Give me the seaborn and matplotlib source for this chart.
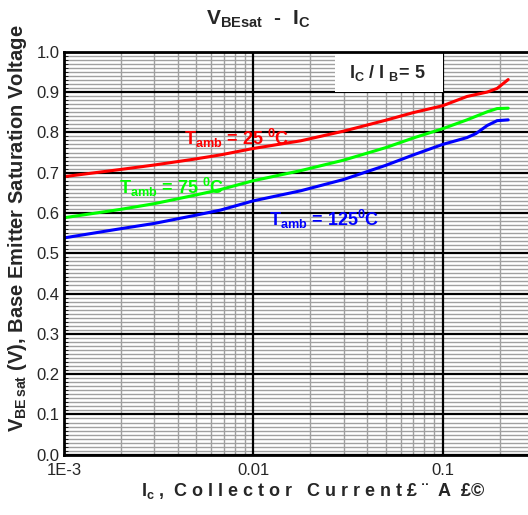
import numpy as np
import pandas as pd
import matplotlib.pyplot as plt
import seaborn as sns
from matplotlib.patches import Rectangle
from matplotlib.ticker import FixedLocator, MultipleLocator, LogLocator, NullFormatter

# collector current (A) and Vbe(sat) readings for each ambient temperature
ic_25 = [0.001, 0.002, 0.003, 0.0048, 0.0067, 0.01, 0.0178, 0.03, 0.05, 0.07, 0.1, 0.1345, 0.172, 0.194, 0.222]
vbe_25 = [0.690, 0.708, 0.719, 0.733, 0.744, 0.760, 0.779, 0.803, 0.830, 0.849, 0.866, 0.889, 0.900, 0.909, 0.931]

ic_75 = [0.001, 0.002, 0.003, 0.0048, 0.0067, 0.01, 0.0178, 0.03, 0.05, 0.07, 0.1, 0.1345, 0.172, 0.194, 0.222]
vbe_75 = [0.588, 0.609, 0.623, 0.643, 0.658, 0.680, 0.705, 0.731, 0.762, 0.786, 0.809, 0.831, 0.851, 0.859, 0.860]

ic_125 = [0.001, 0.002, 0.003, 0.0048, 0.0067, 0.01, 0.0178, 0.03, 0.05, 0.07, 0.1, 0.1345, 0.15, 0.172, 0.194, 0.222]
vbe_125 = [0.538, 0.561, 0.574, 0.593, 0.607, 0.630, 0.655, 0.683, 0.718, 0.744, 0.770, 0.787, 0.797, 0.817, 0.829, 0.831]

temps = ['25', '75', '125']
colors = ['#ff0000', '#00ff00', '#0000ff']
x_ticks = [0.001, 0.01, 0.1]
x_ticklabels = ['1E-3', '0.01', '0.1']
y_ticks = [0.0, 0.1, 0.2, 0.3, 0.4, 0.5, 0.6, 0.7, 0.8, 0.9, 1.0]

df = pd.concat([
    pd.DataFrame({'ic': ic_25, 'vbe': vbe_25, 'T': '25'}),
    pd.DataFrame({'ic': ic_75, 'vbe': vbe_75, 'T': '75'}),
    pd.DataFrame({'ic': ic_125, 'vbe': vbe_125, 'T': '125'}),
])

sns.set_style('white')
plt.rcParams['font.family'] = ['Liberation Sans', 'DejaVu Sans']
plt.rcParams['mathtext.fontset'] = 'custom'
plt.rcParams['mathtext.rm'] = 'Liberation Sans:bold'
plt.rcParams['mathtext.it'] = 'Liberation Sans:bold'
plt.rcParams['mathtext.bf'] = 'Liberation Sans:bold'

fig = plt.figure(figsize=(5.28, 5.15), dpi=100)
ax = fig.add_axes([0.121, 0.117, 0.879, 0.7825])

sns.lineplot(data=df, x='ic', y='vbe', hue='T', hue_order=temps,
             palette=colors, linewidth=2.2, legend=False, ax=ax, sort=False, zorder=3)

ax.set_xscale('log')
ax.set_xlim(0.001, 0.2825)
ax.set_ylim(0.0, 1.0)

# grid: grey minor lines under black major lines
ax.xaxis.set_major_locator(FixedLocator(x_ticks))
ax.set_xticklabels(x_ticklabels)
ax.xaxis.set_minor_locator(LogLocator(base=10, subs=np.arange(2, 10)))
ax.xaxis.set_minor_formatter(NullFormatter())
ax.set_yticks(y_ticks)
ax.set_yticklabels([f'{v:.1f}' for v in y_ticks])
ax.yaxis.set_minor_locator(MultipleLocator(0.01))
ax.grid(which='minor', color='#a0a0a0', linewidth=1.0)
ax.grid(which='major', visible=False)
ax.set_axisbelow(True)
for xv in x_ticks:
    ax.axvline(xv, color='black', linewidth=1.6, zorder=1.5)
for yv in y_ticks:
    ax.axhline(yv, color='black', linewidth=1.6, zorder=1.5)

ax.tick_params(axis='both', which='major', labelsize=12, length=0)
ax.tick_params(axis='x', which='major', pad=6)
ax.tick_params(axis='y', which='major', pad=3)
ax.tick_params(axis='y', which='minor', direction='in', length=3, left=True, color='black')

for side in ['left', 'bottom', 'top']:
    ax.spines[side].set_color('black')
    ax.spines[side].set_linewidth(2)
    ax.spines[side].set_zorder(4)
ax.spines['right'].set_visible(False)

ax.set_xlabel('')
ax.set_ylabel('')

# ratio box
ax.add_patch(Rectangle((0.027, 0.9), 0.1 - 0.027, 0.1, facecolor='white', edgecolor='none', zorder=2))
ax.text(0.0508, 0.948, r'I$_{\mathrm{C}}$ / I $_{\mathrm{B}}$= 5', fontsize=13, fontweight='bold',
        ha='center', va='center', zorder=5)

fig.text(0.489, 0.962, r'V$_{\mathrm{BEsat}}$  -  I$_{\mathrm{C}}$', ha='center', va='center',
         fontsize=15, fontweight='bold')
fig.text(0.034, 0.557, r'V$_{\mathrm{BE\,sat}}$ (V), Base Emitter Saturation Voltage', rotation=90,
         ha='center', va='center', fontsize=14.5, fontweight='bold')
xlab = 'I$_{\\mathrm{c}}$ ,  ' + ' '.join('Collector') + '   ' + ' '.join('Current£¨') + '  A  £©'
fig.text(0.594, 0.047, xlab, ha='center', va='center', fontsize=13, fontweight='bold')

ax.text(0.0043, 0.785, r'T$_{\mathrm{amb}}$ = 25 $^{0}$C', color=colors[0], fontsize=13,
        fontweight='bold', va='center', zorder=5)
ax.text(0.00195, 0.664, r'T$_{\mathrm{amb}}$ = 75 $^{0}$C', color=colors[1], fontsize=13,
        fontweight='bold', va='center', zorder=5)
ax.text(0.0121, 0.585, r'T$_{\mathrm{amb}}$ = 125$^{0}$C', color=colors[2], fontsize=13,
        fontweight='bold', va='center', zorder=5)

fig.savefig('out.png', dpi=100)
